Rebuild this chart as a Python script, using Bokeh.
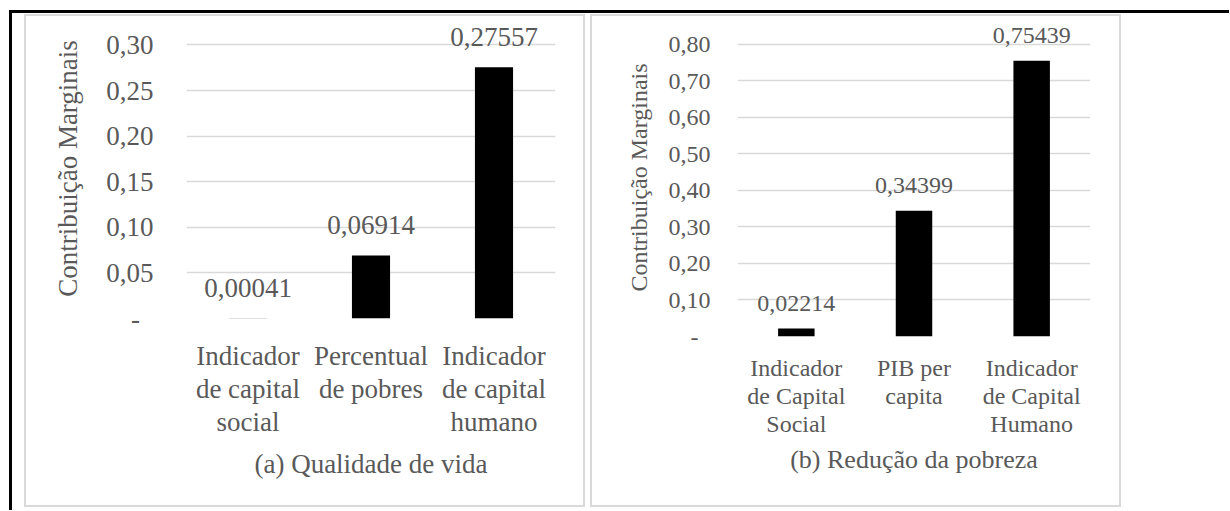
from bokeh.plotting import figure
from bokeh.models import (FixedTicker, Spacer, ColumnDataSource, CategoricalAxis,
                          CustomJSTickFormatter)
from bokeh.layouts import row, column
from bokeh.core.properties import value
from bokeh.embed import file_html
from bokeh.resources import INLINE

# ---------------- data ----------------
y_title = "Contribuição Marginais"

cats_a = ["Indicador de capital social", "Percentual de pobres", "Indicador de capital humano"]
cat_labels_a = ["Indicador\nde capital\nsocial", "Percentual\nde pobres", "Indicador\nde capital\nhumano"]
vals_a = [0.00041, 0.06914, 0.27557]
yticks_a = [0.0, 0.05, 0.10, 0.15, 0.20, 0.25, 0.30]
ytick_labels_a = ["-", "0,05", "0,10", "0,15", "0,20", "0,25", "0,30"]
title_a = "(a) Qualidade de vida"

cats_b = ["Indicador de Capital Social", "PIB per capita", "Indicador de Capital Humano"]
cat_labels_b = ["Indicador\nde Capital\nSocial", "PIB per\ncapita", "Indicador\nde Capital\nHumano"]
vals_b = [0.02214, 0.34399, 0.75439]
yticks_b = [0.0, 0.10, 0.20, 0.30, 0.40, 0.50, 0.60, 0.70, 0.80]
ytick_labels_b = ["-", "0,10", "0,20", "0,30", "0,40", "0,50", "0,60", "0,70", "0,80"]
title_b = "(b) Redução da pobreza"

FONT = "Liberation Serif"
TXT = "#595959"
GRID = "#d9d9d9"


def style_xaxis(ax, fs, standoff):
    ax.axis_line_color = None
    ax.major_tick_line_color = None
    ax.minor_tick_line_color = None
    ax.major_tick_out = 0
    ax.major_tick_in = 0
    ax.major_label_standoff = standoff
    ax.major_label_text_font = FONT
    ax.major_label_text_font_size = f"{fs}px"
    ax.major_label_text_color = TXT


def panel(cats, cat_labels, vals, yticks, ytick_labels, xtitle, width, height,
          mbl, mbr, mbt, mbb, y_end, fs, tfs, y_so, ylab_so, x_sos, xlab_so, lab_off):
    p = figure(x_range=cats, y_range=(0, y_end), width=width, height=height,
               output_backend="svg", toolbar_location=None,
               min_border_left=mbl, min_border_right=mbr,
               min_border_top=mbt, min_border_bottom=mbb,
               background_fill_alpha=0, border_fill_alpha=0,
               outline_line_color=None, frame_align=False,
               styles={"box-shadow": "inset 0 0 0 2px " + GRID})
    src = ColumnDataSource(dict(x=cats, y=vals,
                                lab=[f"{v:.5f}".replace(".", ",") for v in vals]))
    p.vbar(x="x", top="y", width=0.31, source=src, fill_color="black", line_color=None)
    p.text(x="x", y="y", text="lab", source=src, text_align="center",
           text_baseline="alphabetic", y_offset=-lab_off,
           text_font=value(FONT), text_font_size=f"{fs}px", text_color=TXT)

    # y axis
    ya = p.yaxis[0]
    ya.ticker = FixedTicker(ticks=yticks)
    ya.major_label_overrides = {t: (l + "\u2002" if l == "-" else l)
                                for t, l in zip(yticks, ytick_labels)}
    ya.axis_line_color = None
    ya.major_tick_line_color = None
    ya.minor_tick_line_color = None
    ya.major_tick_out = 0
    ya.major_tick_in = 0
    ya.major_label_standoff = y_so
    ya.major_label_text_font = FONT
    ya.major_label_text_font_size = f"{fs}px"
    ya.major_label_text_color = TXT
    ya.axis_label = y_title
    ya.axis_label_standoff = ylab_so
    ya.axis_label_text_font = FONT
    ya.axis_label_text_font_size = f"{fs}px"
    ya.axis_label_text_font_style = "normal"
    ya.axis_label_text_color = TXT

    # x axis: one stacked categorical axis per text line of the category labels
    lines = [lab.split("\n") for lab in cat_labels]
    nlines = max(len(l) for l in lines)
    axes = [p.xaxis[0]]
    for i in range(1, nlines):
        ax = CategoricalAxis()
        p.add_layout(ax, "below")
        axes.append(ax)
    for i, ax in enumerate(axes):
        labs = [(l[i] if i < len(l) else "") for l in lines]
        ax.formatter = CustomJSTickFormatter(
            args=dict(cats=list(cats), labs=labs),
            code="const i = cats.indexOf(tick); return i >= 0 ? labs[i] : '';")
        style_xaxis(ax, fs, x_sos[i])
    last = axes[-1]
    last.axis_label = xtitle
    last.axis_label_standoff = xlab_so
    last.axis_label_text_font = FONT
    last.axis_label_text_font_size = f"{tfs}px"
    last.axis_label_text_font_style = "normal"
    last.axis_label_text_color = TXT

    # grid
    p.xgrid.grid_line_color = None
    p.ygrid.ticker = FixedTicker(ticks=yticks)
    p.ygrid.grid_line_color = GRID
    p.ygrid.grid_line_width = 1.5
    return p


p1 = panel(cats_a, cat_labels_a, vals_a, yticks_a, ytick_labels_a, title_a,
           width=561, height=493, mbl=162, mbr=30, mbt=4, mbb=189, y_end=0.329,
           fs=27, tfs=27, y_so=33, ylab_so=20, x_sos=[22, 0, 0], xlab_so=9,
           lab_off=30)
p2 = panel(cats_b, cat_labels_b, vals_b, yticks_b, ytick_labels_b, title_b,
           width=531, height=493, mbl=147, mbr=31, mbt=4, mbb=171, y_end=0.8698,
           fs=24, tfs=26, y_so=27, ylab_so=14, x_sos=[18, -1, -1], xlab_so=5,
           lab_off=25)

inner = column(
    Spacer(width=1220, height=4),
    row(Spacer(width=15, height=493), p1, Spacer(width=5, height=493), p2,
        Spacer(width=108, height=493)),
    Spacer(width=1220, height=3),
    styles={"box-shadow": "inset 3px 3px 0 0 #000000"},
)
layout = column(Spacer(width=1229, height=10), row(Spacer(width=9, height=500), inner))

open("out.html", "w").write(file_html(layout, INLINE))
